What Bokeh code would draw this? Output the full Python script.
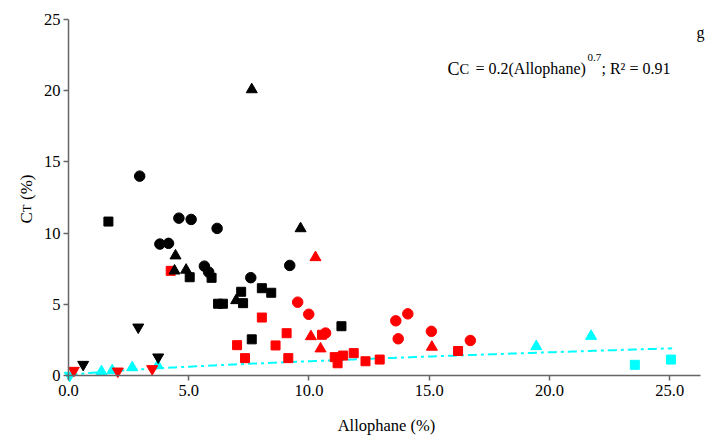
from bokeh.plotting import figure
from bokeh.models import Label, FixedTicker, Range1d
from bokeh.embed import file_html
from bokeh.resources import INLINE
import numpy as np
import math

# ---------------- data ----------------
black_circle_x = [2.96, 4.59, 5.10, 6.18, 3.80, 4.16, 5.65, 5.83, 7.58, 9.20]
black_circle_y = [14.0, 11.05, 10.96, 10.33, 9.23, 9.28, 7.68, 7.26, 6.87, 7.73]

black_square_x = [1.66, 5.04, 5.95, 6.22, 6.42, 7.26, 7.18, 8.04, 8.43, 7.62, 11.35]
black_square_y = [10.81, 6.90, 6.86, 5.04, 5.04, 5.08, 5.88, 6.13, 5.81, 2.54, 3.46]

black_tri_x = [7.62, 9.65, 4.45, 4.41, 4.89, 6.97]
black_tri_y = [20.08, 10.32, 8.41, 7.35, 7.41, 5.27]

black_itri_x = [0.61, 2.90, 3.73]
black_itri_y = [0.77, 3.39, 1.29]

red_circle_x = [9.53, 9.99, 10.69, 13.61, 14.11, 13.71, 15.09, 16.71]
red_circle_y = [5.15, 4.30, 2.98, 3.84, 4.33, 2.58, 3.10, 2.46]

red_square_x = [4.25, 8.04, 7.01, 8.61, 7.34, 9.14, 9.07, 10.54, 11.07, 11.42, 11.19, 11.86, 12.35, 12.94, 16.20]
red_square_y = [7.35, 4.07, 2.13, 2.11, 1.22, 1.22, 2.97, 2.86, 1.29, 1.40, 0.86, 1.57, 1.00, 1.12, 1.72]

red_tri_x = [10.27, 10.08, 10.48, 15.11]
red_tri_y = [8.29, 2.74, 1.88, 2.00]

red_itri_x = [0.22, 2.05, 3.48]
red_itri_y = [0.35, 0.30, 0.47]

cyan_tri_x = [1.37, 1.82, 2.65, 3.71, 19.45, 21.73]
cyan_tri_y = [0.28, 0.35, 0.56, 0.70, 2.04, 2.76]

cyan_itri_x = [0.05]
cyan_itri_y = [0.0]

cyan_square_x = [23.55, 25.05]
cyan_square_y = [0.75, 1.12]

# fitted model shown on the chart: Cc = 0.2 (Allophane)^0.7
FIT_A = 0.2
FIT_B = 0.7
FIT_X_MAX = 25.1

x_ticks = [0, 5, 10, 15, 20, 25]
x_tick_labels = ["0.0", "5.0", "10.0", "15.0", "20.0", "25.0"]
y_ticks = [0, 5, 10, 15, 20, 25]
y_tick_labels = ["0", "5", "10", "15", "20", "25"]

# ---------------- layout (pixel geometry of the reference) ----------------
W, H = 709, 438
AX_LEFT_PX, AX_RIGHT_PX = 68, 700      # x = 0 and x-axis end
AX_TOP_PX, AX_BOTTOM_PX = 19, 375      # y = 25 and y = 0
X_AXIS_END = 26.28
Y_AXIS_END = 25.0
SX = (AX_RIGHT_PX - AX_LEFT_PX) / X_AXIS_END
SY = (AX_BOTTOM_PX - AX_TOP_PX) / Y_AXIS_END


def dx(px):
    return (px - AX_LEFT_PX) / SX


def dy(py):
    return (AX_BOTTOM_PX - py) / SY


FONT = "Liberation Serif"

# the frame covers the whole canvas so all texts can be drawn as labels without clipping
p = figure(width=W, height=H, output_backend="svg", toolbar_location=None,
           x_range=Range1d(dx(0), dx(W)), y_range=Range1d(dy(H), dy(0)),
           min_border_left=0, min_border_right=0, min_border_top=0, min_border_bottom=0)
p.outline_line_color = None
p.xgrid.grid_line_color = None
p.ygrid.grid_line_color = None
p.background_fill_color = "white"
p.border_fill_color = "white"

for axes in (p.xaxis, p.yaxis):
    axes.fixed_location = 0
    axes.axis_line_color = "#666666"
    axes.axis_line_width = 1.5
    axes.major_tick_line_color = "#666666"
    axes.major_tick_line_width = 1.5
    axes.minor_tick_line_color = None
    axes.major_tick_in = 0
    axes.major_tick_out = 5
    axes.major_label_text_color = None

p.xaxis.ticker = FixedTicker(ticks=x_ticks)
p.xaxis.bounds = (0, X_AXIS_END)
p.yaxis.ticker = FixedTicker(ticks=y_ticks)
p.yaxis.bounds = (0, Y_AXIS_END)

# fit line
fx = np.linspace(0.0, FIT_X_MAX, 200)
fy = FIT_A * fx ** FIT_B
p.line(fx, fy, line_color="#00FFFF", line_width=2, line_dash="9 4 3 4")

BLACK, RED, CYAN = "#000000", "#FF0000", "#00FFFF"


def pts(x, y, marker, color, size):
    p.scatter(x, y, marker=marker, size=size, fill_color=color, line_color=color, line_width=1)


pts(cyan_itri_x, cyan_itri_y, "inverted_triangle", CYAN, 11)
pts(cyan_tri_x, cyan_tri_y, "triangle", CYAN, 11)
pts(cyan_square_x, cyan_square_y, "square", CYAN, 9)
pts(red_itri_x, red_itri_y, "inverted_triangle", RED, 11)
pts(red_tri_x, red_tri_y, "triangle", RED, 11)
pts(red_square_x, red_square_y, "square", RED, 9)
pts(red_circle_x, red_circle_y, "circle", RED, 10.5)
pts(black_itri_x, black_itri_y, "inverted_triangle", BLACK, 11)
pts(black_tri_x, black_tri_y, "triangle", BLACK, 11)
pts(black_square_x, black_square_y, "square", BLACK, 9)
pts(black_circle_x, black_circle_y, "circle", BLACK, 10.5)


def lab(text, x, y, size, align="left", baseline="alphabetic", angle=0.0):
    p.add_layout(Label(x=x, y=y, x_units="data", y_units="data", text=text,
                       text_font=FONT, text_font_size=f"{size}px", text_color="black",
                       text_align=align, text_baseline=baseline, angle=angle,
                       angle_units="rad"))


# tick labels (at the axis tick values)
for t, s in zip(x_ticks, x_tick_labels):
    lab(s, t, dy(AX_BOTTOM_PX + 9), 16.5, align="center", baseline="top")
for t, s in zip(y_ticks, y_tick_labels):
    lab(s, dx(AX_LEFT_PX - 8), t, 16.5, align="right", baseline="middle")

# axis titles
lab("Allophane (%)", dx(386), dy(425), 16.5, align="center")
lab("C", dx(26), dy(223), 17, angle=math.pi / 2)
lab("T", dx(26), dy(211.7), 12.5, angle=math.pi / 2)
lab("(%)", dx(26), dy(199.5), 17, angle=math.pi / 2)

# equation annotation
lab("C", dx(447), dy(68), 18)
lab("C", dx(459), dy(68), 14.5)
lab("= 0.2(Allophane)", dx(475), dy(68), 16)
lab("0.7", dx(587), dy(57), 11)
lab("; R\u00b2 = 0.91", dx(601), dy(68), 16)

# panel letter
lab("g", dx(700), dy(32), 16, align="center")

open("out.html", "w").write(file_html(p, INLINE))
